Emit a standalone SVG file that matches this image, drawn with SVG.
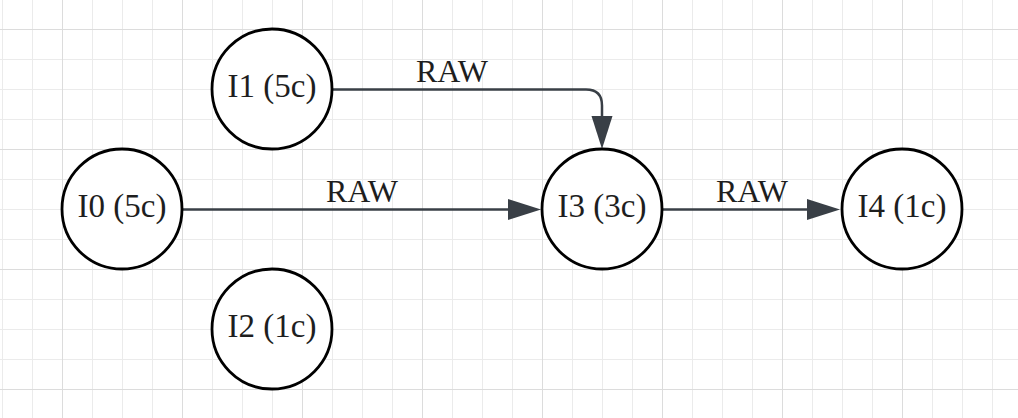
<svg xmlns="http://www.w3.org/2000/svg" width="1018" height="418" viewBox="0 0 1018 418">
  <defs>
    <pattern id="minor" width="30" height="30" patternUnits="userSpaceOnUse" x="2" y="29">
      <path d="M0.5 0 V30 M0 0.5 H30" fill="none" stroke="#ebebeb" stroke-width="1"/>
    </pattern>
    <pattern id="major" width="120" height="120" patternUnits="userSpaceOnUse" x="62" y="29">
      <path d="M0.5 0 V120 M0 0.5 H120" fill="none" stroke="#dcdcdc" stroke-width="1"/>
    </pattern>
    <marker id="arrow" markerUnits="userSpaceOnUse" markerWidth="34" markerHeight="22" refX="0" refY="11" orient="auto">
      <path d="M0 0.5 L33 11 L0 21.5 Z" fill="#393f46"/>
    </marker>
    <style>
      .node circle { fill: #ffffff; stroke: #000000; stroke-width: 2.8; }
      .label { font-family: "Liberation Serif", "Times New Roman", serif; font-size: 32px; fill: #1e1e1e; text-anchor: middle; }
      .node .label { font-size: 33px; }
      .edge { fill: none; stroke: #393f46; stroke-width: 2.5; marker-end: url(#arrow); }
    </style>
  </defs>
  <rect width="1018" height="418" fill="#ffffff"/>
  <rect width="1018" height="418" fill="url(#minor)"/>
  <rect width="1018" height="418" fill="url(#major)"/>

  <g id="connectors">
    <path class="edge" d="M332 89.5 H586 Q602 89.5 602 105.5 V116"/>
    <path class="edge" d="M182 209.5 H508"/>
    <path class="edge" d="M662 209.5 H807"/>
    <text class="label" x="452" y="81.7">RAW</text>
    <text class="label" x="362" y="201.7">RAW</text>
    <text class="label" x="752" y="201.7">RAW</text>
  </g>

  <g id="I0" class="node">
    <circle cx="122" cy="209" r="60"/>
    <text class="label" x="122" y="217">I0 (5c)</text>
  </g>
  <g id="I1" class="node">
    <circle cx="272" cy="89" r="60"/>
    <text class="label" x="272" y="97">I1 (5c)</text>
  </g>
  <g id="I2" class="node">
    <circle cx="272" cy="329" r="60"/>
    <text class="label" x="272" y="337">I2 (1c)</text>
  </g>
  <g id="I3" class="node">
    <circle cx="602" cy="209" r="60"/>
    <text class="label" x="602" y="217">I3 (3c)</text>
  </g>
  <g id="I4" class="node">
    <circle cx="902" cy="209" r="60"/>
    <text class="label" x="902" y="217">I4 (1c)</text>
  </g>
</svg>
